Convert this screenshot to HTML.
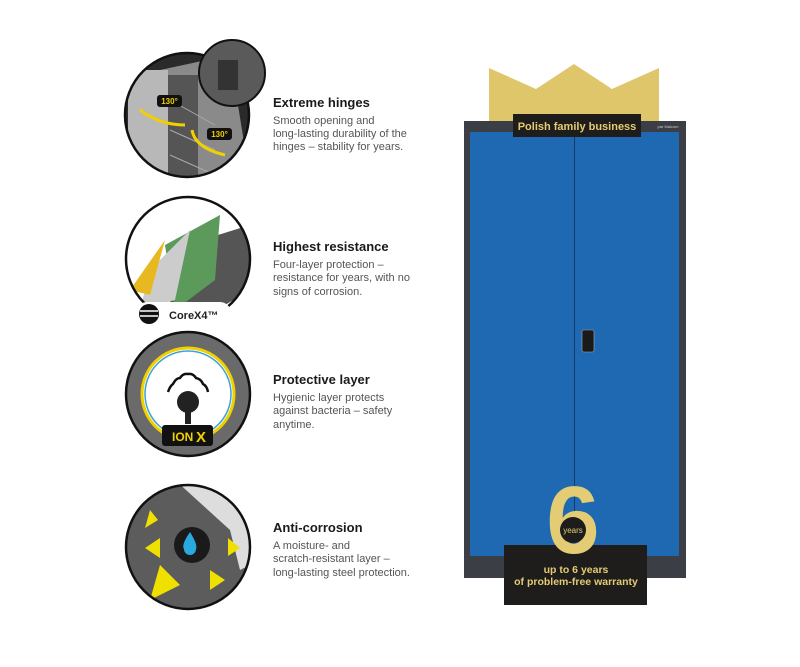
<!DOCTYPE html>
<html><head><style>
body{margin:0;width:800px;height:667px;background:#fff;overflow:hidden;font-family:"Liberation Sans",sans-serif;}
svg{position:absolute;left:0;top:0}
</style></head><body>
<svg width="800" height="667" viewBox="0 0 800 667" font-family="Liberation Sans, sans-serif">
<defs>
<clipPath id="c1"><circle cx="187" cy="115" r="62"/></clipPath>
<clipPath id="c2"><circle cx="188" cy="259" r="62"/></clipPath>
<clipPath id="c4"><circle cx="188" cy="547" r="62"/></clipPath>
</defs>
<!-- circle 1 -->
<g clip-path="url(#c1)">
<rect x="120" y="50" width="140" height="130" fill="#2a2a2a"/>
<polygon points="160,70 230,55 250,180 160,180" fill="#8a8a8a"/>
<rect x="128" y="70" width="40" height="110" fill="#b8b8b8"/>
<rect x="168" y="75" width="30" height="105" fill="#555"/>
<line x1="170" y1="100" x2="215" y2="125" stroke="#aaa"/>
<line x1="170" y1="130" x2="215" y2="150" stroke="#aaa"/>
<line x1="170" y1="155" x2="215" y2="175" stroke="#aaa"/>
<path d="M185,125 Q160,125 140,110" stroke="#f0d000" stroke-width="3" fill="none"/>
<path d="M192,130 Q195,148 225,155" stroke="#f0d000" stroke-width="3" fill="none"/>
<rect x="157" y="95" width="25" height="12" rx="3" fill="#111"/>
<text x="169.5" y="104" font-size="8" fill="#f0d000" text-anchor="middle" font-weight="bold">130°</text>
<rect x="207" y="128" width="25" height="12" rx="3" fill="#111"/>
<text x="219.5" y="137" font-size="8" fill="#f0d000" text-anchor="middle" font-weight="bold">130°</text>
</g>
<circle cx="187" cy="115" r="62" fill="none" stroke="#111" stroke-width="2.5"/>
<circle cx="232" cy="73" r="33" fill="#5a5a5a" stroke="#111" stroke-width="2"/>
<rect x="218" y="60" width="20" height="30" fill="#333"/>
<!-- circle 2 -->
<g clip-path="url(#c2)">
<rect x="120" y="195" width="140" height="130" fill="#fff"/>
<polygon points="170,250 250,225 250,290 200,320 170,320" fill="#555"/>
<polygon points="165,245 220,215 215,280 175,310" fill="#5c9a5c"/>
<polygon points="150,270 190,230 175,300 140,310" fill="#ccc"/>
<polygon points="130,290 165,240 150,295" fill="#e8b820"/>
</g>
<circle cx="188" cy="259" r="62" fill="none" stroke="#111" stroke-width="2.5"/>
<rect x="136" y="302" width="95" height="22" rx="11" fill="#fff"/>
<circle cx="149" cy="314" r="10" fill="#111"/>
<line x1="140" y1="311" x2="158" y2="311" stroke="#fff" stroke-width="1.5"/>
<line x1="140" y1="316" x2="158" y2="316" stroke="#fff" stroke-width="1.5"/>
<text x="169" y="319" font-size="11" font-weight="bold" fill="#222">CoreX4™</text>
<!-- circle 3 -->
<circle cx="188" cy="394" r="62" fill="#6a6a6a" stroke="#111" stroke-width="2.5"/>
<circle cx="188" cy="394" r="46" fill="#fff" stroke="#f0d000" stroke-width="3"/>
<circle cx="188" cy="394" r="43" fill="none" stroke="#3aa0d8" stroke-width="1.5"/>
<path d="M168,392 q2,-6 5,-8 q3,-6 7,-6 q3,-5 8,-4 q5,-1 8,4 q5,1 7,6 q4,2 5,8" stroke="#111" stroke-width="2.5" fill="none"/>
<circle cx="188" cy="402" r="11" fill="#222"/>
<rect x="185" y="410" width="6" height="14" fill="#222"/>
<rect x="162" y="425" width="51" height="21" rx="3" fill="#111"/>
<text x="172" y="441" font-size="12" font-weight="bold" fill="#f0d000">ION</text>
<text x="196" y="442" font-size="15" font-weight="bold" fill="#f0d000">X</text>
<!-- circle 4 -->
<g clip-path="url(#c4)">
<rect x="120" y="480" width="140" height="140" fill="#5c5c5c"/>
<polygon points="175,480 260,480 260,560 240,570 230,530" fill="#ddd"/>
<polygon points="150,510 158,520 145,528" fill="#f0e000"/>
<polygon points="145,548 160,538 160,558" fill="#f0e000"/>
<polygon points="228,538 240,548 228,556" fill="#f0e000"/>
<polygon points="160,565 180,585 150,600" fill="#f0e000"/>
<polygon points="210,570 225,580 210,590" fill="#f0e000"/>
<circle cx="192" cy="545" r="18" fill="#1a1a1a"/>
<path d="M190,532 q-9,13 -6,17 a6,6 0 0 0 12,0 q2,-4 -6,-17z" fill="#2aa8e0"/>
</g>
<circle cx="188" cy="547" r="62" fill="none" stroke="#111" stroke-width="2.5"/>
<!-- text -->
<g fill="#555" font-size="11">
<text x="273" y="107" font-size="13" font-weight="bold" fill="#1a1a1a">Extreme hinges</text>
<text x="273" y="124">Smooth opening and</text>
<text x="273" y="137">long-lasting durability of the</text>
<text x="273" y="150">hinges – stability for years.</text>
<text x="273" y="251" font-size="13" font-weight="bold" fill="#1a1a1a">Highest resistance</text>
<text x="273" y="268">Four-layer protection –</text>
<text x="273" y="281">resistance for years, with no</text>
<text x="273" y="295">signs of corrosion.</text>
<text x="273" y="384" font-size="13" font-weight="bold" fill="#1a1a1a">Protective layer</text>
<text x="273" y="401">Hygienic layer protects</text>
<text x="273" y="414">against bacteria – safety</text>
<text x="273" y="428">anytime.</text>
<text x="273" y="532" font-size="13" font-weight="bold" fill="#1a1a1a">Anti-corrosion</text>
<text x="273" y="549">A moisture- and</text>
<text x="273" y="562">scratch-resistant layer –</text>
<text x="273" y="576">long-lasting steel protection.</text>
</g>
<!-- cabinet -->
<polygon points="489,68 536,89 574,64 612,89 659,68 659,122 489,122" fill="#dfc66a"/>
<rect x="464" y="121" width="222" height="457" fill="#3b3e44"/>
<rect x="470" y="132" width="104" height="424" fill="#1f68b2"/>
<rect x="575" y="132" width="104" height="424" fill="#1f68b2"/>
<line x1="574.5" y1="132" x2="574.5" y2="556" stroke="#123d6a"/>
<rect x="582" y="330" width="12" height="22" rx="2" fill="#1a1a1a" stroke="#aaa" stroke-width="0.6"/>
<rect x="513" y="114" width="128" height="23" fill="#1e1d1b"/>
<text x="577" y="130" font-size="11" font-weight="bold" fill="#e4cc74" text-anchor="middle">Polish family business</text>
<text x="668" y="128" font-size="4" fill="#ccc" text-anchor="middle">par Malcom</text>
<rect x="504" y="545" width="143" height="60" fill="#1e1d1b"/>
<text x="573" y="553" font-size="96" font-weight="bold" fill="#e4cc74" text-anchor="middle">6</text>
<circle cx="573" cy="530" r="13" fill="#1e1d1b"/>
<text x="573" y="533" font-size="8" fill="#e4cc74" text-anchor="middle">years</text>
<text x="576" y="573" font-size="10.5" font-weight="bold" fill="#e4cc74" text-anchor="middle">up to 6 years</text>
<text x="576" y="585" font-size="10.5" font-weight="bold" fill="#e4cc74" text-anchor="middle">of problem-free warranty</text>
</svg>
</body></html>
